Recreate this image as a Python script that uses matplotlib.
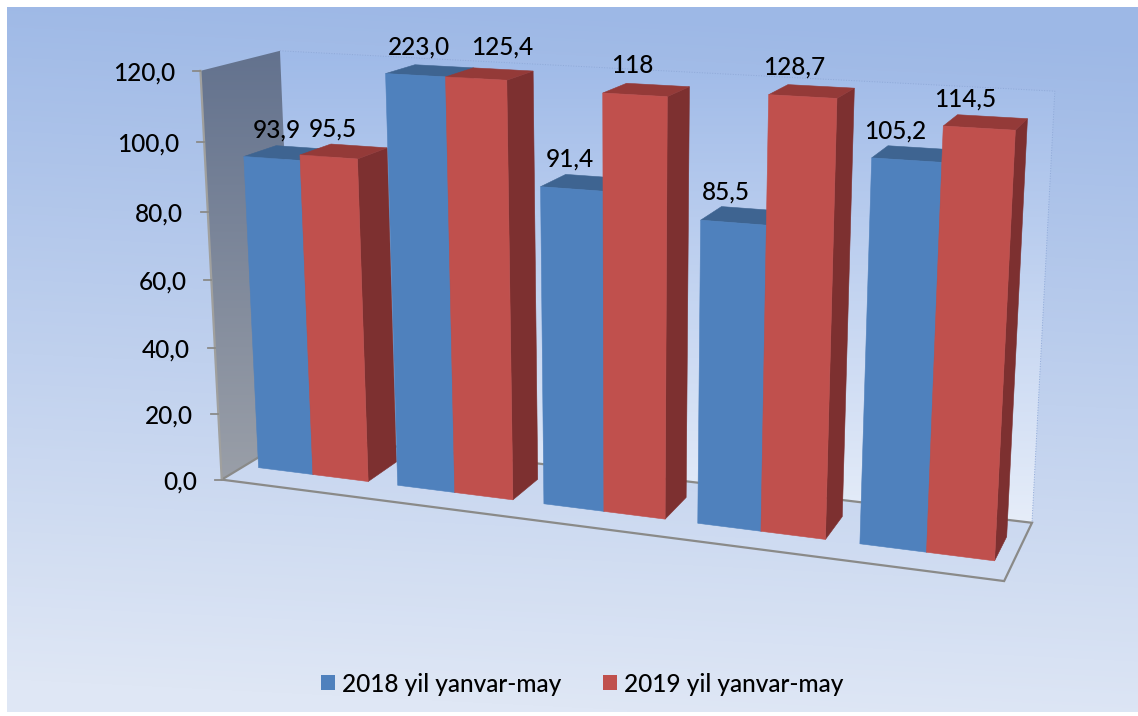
import numpy as np
import matplotlib
matplotlib.use("Agg")
import matplotlib.pyplot as plt
from matplotlib.colors import LinearSegmentedColormap
from matplotlib.patches import Patch, Polygon

plt.rcParams['font.family'] = ['Lato', 'DejaVu Sans']
plt.rcParams['font.weight'] = 'medium'

# =================== DATA ===================
series_names = ["2018 yil yanvar-may", "2019 yil yanvar-may"]
values_2018 = [93.9, 223.0, 91.4, 85.5, 105.2]
values_2019 = [95.5, 125.4, 118.0, 128.7, 114.5]
labels_2018 = ["93,9", "223,0", "91,4", "85,5", "105,2"]
labels_2019 = ["95,5", "125,4", "118", "128,7", "114,5"]
y_ticks = [0, 20, 40, 60, 80, 100, 120]
y_tick_labels = ["0,0", "20,0", "40,0", "60,0", "80,0", "100,0", "120,0"]

# =================== 3D LOOK ===================
Y_MAX = 120.0
GAP = 0.104          # group margin, in group units
BAR = 0.396          # bar width, in group units
DEPTH = 0.7          # floor margin in front of and behind the bars
FONT = 17.6

BLUE = ("#4f81bd", "#3e6491", "#34557c")   # front, top, side
RED = ("#c0504d", "#943a38", "#7d3030")

# nudges of the value labels (px), they do not sit regularly in the original
nudge_2018 = [(5, -28), (4, -28), (-2, -30), (-7, -31), (-11, -29)]
nudge_2019 = [(4, -28), (26, -31), (-3, -29), (-8, -29), (-14, -29)]

# camera calibration: (group pos, value, depth) -> pixel
calib = [
    ((0.104, 0, 0), (258, 468)), ((0.5, 0, 0), (313, 474)), ((0.896, 0, 0), (369, 481)),
    ((0.896, 0, 1), (396, 462)),
    ((1.104, 0, 0), (397, 485)), ((1.5, 0, 0), (455, 492)), ((1.896, 0, 0), (513, 500)),
    ((1.896, 0, 1), (538, 480)),
    ((3.104, 0, 0), (697, 523)), ((3.5, 0, 0), (761, 531)), ((3.896, 0, 0), (826, 539)),
    ((3.896, 0, 1), (843, 517)),
    ((4.104, 0, 0), (859, 544)), ((4.5, 0, 0), (927, 552)), ((4.896, 0, 0), (995, 561)),
    ((4.896, 0, 1), (1007, 536)),
    ((0.104, 93.9, 0), (244, 156)), ((0.5, 95.5, 0), (300, 155)), ((0.896, 95.5, 0), (358, 158)),
    ((0.896, 95.5, 1), (387, 148)),
    ((1.104, 120, 0), (385, 73)), ((1.5, 120, 0), (446, 77)), ((1.896, 120, 0), (507, 80)),
    ((1.896, 120, 1), (533, 71)),
    ((2.104, 91.4, 0), (540, 187)), ((2.5, 118, 0), (603, 93)), ((2.896, 118, 0), (668, 97)),
    ((2.896, 118, 1), (689, 87)),
    ((3.104, 85.5, 0), (700, 221)), ((3.5, 120, 0), (769, 94)), ((3.896, 120, 0), (837, 98)),
    ((3.896, 120, 1), (855, 88)),
    ((4.104, 105.2, 0), (872, 158)), ((4.5, 114.5, 0), (943, 126)), ((4.896, 114.5, 0), (1016, 130)),
    ((4.896, 114.5, 1), (1027, 119)),
    ((0, 0, -DEPTH), (222, 480)), ((5, 0, -DEPTH), (1003, 582)), ((5, 0, 1 + DEPTH), (1032, 523)),
    ((0, 120, -DEPTH), (200, 72)), ((0, 120, 1 + DEPTH), (280, 51)), ((5, 120, 1 + DEPTH), (1054, 91)),
]


def fit_camera(points):
    rows = []
    for (u, v, w), (x, y) in points:
        X = [u, v / 100.0, w, 1.0]
        x, y = x / 1000.0, y / 1000.0
        rows.append(X + [0, 0, 0, 0] + [-x * c for c in X])
        rows.append([0, 0, 0, 0] + X + [-y * c for c in X])
    _, _, vt = np.linalg.svd(np.array(rows))
    return vt[-1].reshape(3, 4)


CAM = fit_camera(calib)


def proj(u, v, w):
    """Group pos, value, depth -> pixel."""
    p = CAM @ np.array([u, v / 100.0, w, 1.0])
    return p[0] / p[2] * 1000.0, p[1] / p[2] * 1000.0


def gradient(ax, poly, c_top, c_bottom, box, tilt=0.0):
    # vertical gradient clipped to a polygon, tilt leans it a bit to the side
    x0, x1, y0, y1 = box
    yy, xx = np.mgrid[0:1:200j, 0:1:200j]
    cmap = LinearSegmentedColormap.from_list("g", [c_top, c_bottom])
    im = ax.imshow(np.clip(yy + tilt * (0.5 - xx), 0, 1), cmap=cmap, vmin=0, vmax=1,
                   extent=(x0, x1, y1, y0), aspect="auto", zorder=1, interpolation="bilinear")
    im.set_clip_path(Polygon(poly, transform=ax.transData))


def draw_bar(ax, u0, u1, value, colors):
    v = min(value, Y_MAX)
    front = [proj(u0, 0, 0), proj(u1, 0, 0), proj(u1, v, 0), proj(u0, v, 0)]
    side = [proj(u1, 0, 0), proj(u1, 0, 1), proj(u1, v, 1), proj(u1, v, 0)]
    top = [proj(u0, v, 0), proj(u1, v, 0), proj(u1, v, 1), proj(u0, v, 1)]
    for poly, col in ((side, colors[2]), (top, colors[1]), (front, colors[0])):
        ax.add_patch(Polygon(poly, closed=True, facecolor=col, edgecolor=col, lw=0.4, zorder=3))


# =================== FIGURE ===================
fig = plt.figure(figsize=(11.38, 7.16), dpi=100)
ax = fig.add_axes([0, 0, 1, 1])

gradient(ax, [(7, 7), (1138, 7), (1138, 712), (7, 712)], "#9db8e6", "#dfe7f5", (7, 1138, 7, 712), tilt=0.08)

front_z = -DEPTH
back_z = 1 + DEPTH

# back wall
wall = [proj(0, 0, back_z), proj(5, 0, back_z), proj(5, Y_MAX, back_z), proj(0, Y_MAX, back_z)]
gradient(ax, wall, "#9fbae8", "#e6edf9", (270, 1060, 50, 525))
ax.plot(*zip(wall[3], wall[2], wall[1]), color="#8fa9d8", lw=0.7, ls=":", zorder=2)

# left wall
side_wall = [proj(0, 0, front_z), proj(0, 0, back_z), proj(0, Y_MAX, back_z), proj(0, Y_MAX, front_z)]
gradient(ax, side_wall, "#63728e", "#9a9fa8", (195, 310, 50, 482))

# floor edges
line_col = "#8a8a88"
floor = [proj(0, 0, back_z), proj(0, 0, front_z), proj(5, 0, front_z), proj(5, 0, back_z), proj(0, 0, back_z)]
ax.plot(*zip(*floor), color=line_col, lw=1.6, zorder=2, solid_joinstyle="miter")
ax.plot(*zip(proj(0, 0, front_z), proj(0, Y_MAX, front_z)), color="#a0a09e", lw=1.6, zorder=2)

# y axis
for tick, txt in zip(y_ticks, y_tick_labels):
    x, y = proj(0, tick, front_z)
    ax.plot([x - 7, x], [y, y], color=line_col, lw=1.3, zorder=2)
    ax.text(x - 25, y + 2, txt, ha="right", va="center", fontsize=FONT, color="black", zorder=5)

# bars
for i in range(len(values_2018)):
    draw_bar(ax, i + GAP, i + GAP + BAR, values_2018[i], BLUE)
    draw_bar(ax, i + GAP + BAR, i + GAP + 2 * BAR, values_2019[i], RED)

# value labels
for i in range(len(values_2018)):
    for vals, labs, nudge, off in ((values_2018, labels_2018, nudge_2018, 0),
                                   (values_2019, labels_2019, nudge_2019, 1)):
        x, y = proj(i + GAP + BAR * (off + 0.5), min(vals[i], Y_MAX), 0)
        ax.text(x + nudge[i][0], y + nudge[i][1], labs[i], ha="center", va="center",
                fontsize=FONT, color="black", zorder=5)

handles = [Patch(facecolor=BLUE[0], label=series_names[0]), Patch(facecolor=RED[0], label=series_names[1])]
ax.legend(handles=handles, ncol=2, loc="center", bbox_to_anchor=(582, 684), bbox_transform=ax.transData,
          frameon=False, fontsize=FONT, handlelength=0.57, handleheight=0.57, handletextpad=0.3,
          columnspacing=1.7, labelcolor="black")

ax.set_xlim(0, 1138)
ax.set_ylim(716, 0)
ax.axis("off")

fig.savefig("out.png", dpi=100, facecolor="white")
